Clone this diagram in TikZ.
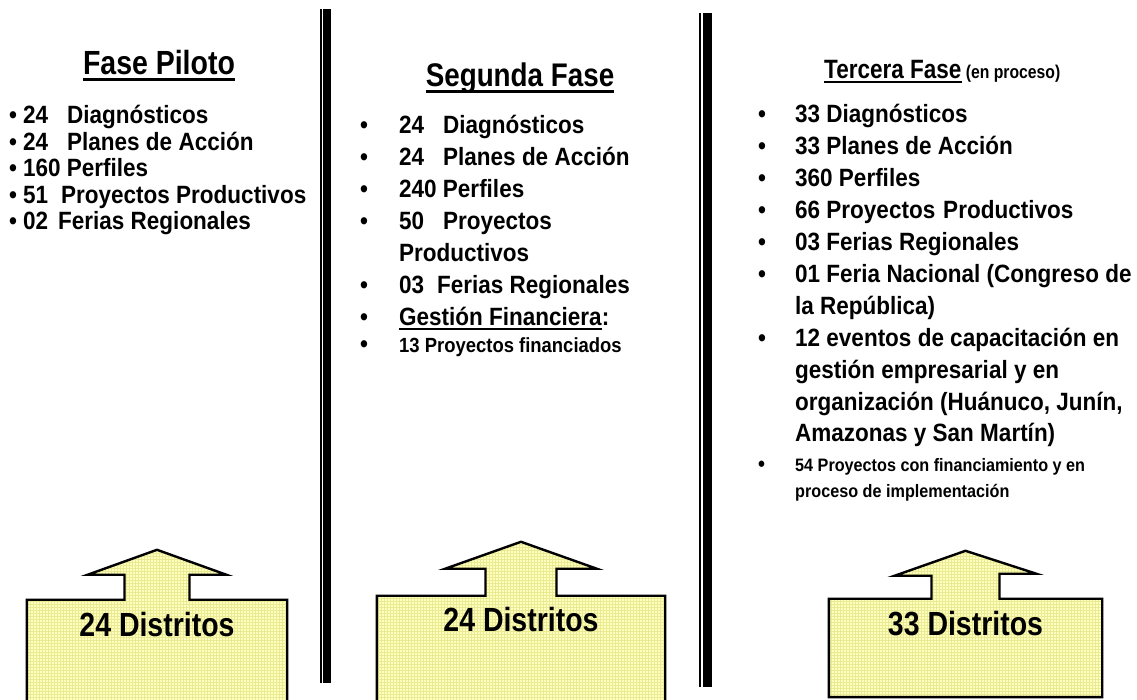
\documentclass[tikz,border=0pt]{standalone}
\usepackage{fontspec}
\setmainfont{Liberation Sans}[FakeStretch=0.9]
\newfontfamily\fasefont{Liberation Sans}[FakeStretch=0.85]
\usetikzlibrary{positioning, patterns}

\definecolor{distfill}{HTML}{FFFFBE}
\definecolor{distgrid}{HTML}{EAEA94}

\newsavebox{\rayabox}
\newcommand{\rayado}[1]{\sbox\rayabox{#1}\rlap{\rule[-0.17em]{\wd\rayabox}{0.08em}}\usebox\rayabox}

\begin{document}
\begin{tikzpicture}[x=1pt, y=1pt]
    \tikzset{
        titulo/.style = {inner sep=0pt, font=\fasefont\bfseries\fontsize{33.5}{36}\selectfont},
        item/.style = {anchor=north west, inner sep=0pt, text height=19pt, text depth=6pt,
                       font=\bfseries\fontsize{25}{28}\selectfont},
        chico/.style = {anchor=north west, inner sep=0pt, text height=14pt, text depth=4pt,
                        font=\bfseries\fontsize{18}{20}\selectfont},
        caja/.style = {rectangle, inner sep=0pt},
        distrito/.style = {anchor=base, inner sep=0pt, font=\fasefont\bfseries\fontsize{33.5}{36}\selectfont},
        callout/.style = {draw=black, line width=2.4pt, preaction={fill=distfill},
                          preaction={pattern=grid, pattern color=distgrid}},
        sepfino/.style = {line width=2pt},
        sepgrueso/.style = {line width=8.5pt}
    }
    \useasboundingbox (0,0) rectangle (1137,700);
    \clip (0,0) rectangle (1137,700);

    % separadores
    \draw[sepfino] (320.5,17) -- (320.5,691);
    \draw[sepgrueso] (327,17) -- (327,691);
    \draw[sepfino] (700,13) -- (700,687);
    \draw[sepgrueso] (707.5,13) -- (707.5,687);

    % fase piloto
    \node[titulo, anchor=base] (pil) at (159,625) {\rayado{Fase Piloto}};
    \node[item, anchor=base west] (p1) at (9,576) {\makebox[14pt][l]{•}24\hspace{19pt}Diagnósticos};
    \node[item, below right=1pt and 0pt of p1.south west] (p2) {\makebox[14pt][l]{•}24\hspace{19pt}Planes de Acción};
    \node[item, below right=1pt and 0pt of p2.south west] (p3) {\makebox[14pt][l]{•}160 Perfiles};
    \node[item, below right=1pt and 0pt of p3.south west] (p4) {\makebox[14pt][l]{•}51\hspace{13pt}Proyectos Productivos};
    \node[item, below right=1pt and 0pt of p4.south west] (p5) {\makebox[14pt][l]{•}02\hspace{10pt}Ferias Regionales};

    % segunda fase
    \node[titulo, anchor=base, font=\fasefont\bfseries\fontsize{32.7}{35}\selectfont] (seg) at (520,613) {\rayado{Segunda Fase}};
    \node[item, anchor=base west] (s1) at (360,566) {\makebox[39pt][l]{•}24\hspace{19pt}Diagnósticos};
    \node[item, below right=6.5pt and 0pt of s1.south west] (s2) {\makebox[39pt][l]{•}24\hspace{19pt}Planes de Acción};
    \node[item, below right=6.5pt and 0pt of s2.south west] (s3) {\makebox[39pt][l]{•}240 Perfiles};
    \node[item, below right=6.5pt and 0pt of s3.south west] (s4) {\makebox[39pt][l]{•}50\hspace{19pt}Proyectos};
    \node[item, below right=6.5pt and 0pt of s4.south west] (s5) {\hspace*{39pt}Productivos};
    \node[item, below right=6.5pt and 0pt of s5.south west] (s6) {\makebox[39pt][l]{•}03\hspace{13pt}Ferias Regionales};
    \node[item, below right=6.5pt and 0pt of s6.south west] (s7) {\makebox[39pt][l]{•}\rayado{Gestión Financiera}:};
    \node[chico, font=\bfseries\fontsize{20.5}{23}\selectfont, below right=7pt and 0pt of s7.south west] (s8)
        {\makebox[39pt][l]{\fontsize{25}{28}\selectfont•}13 Proyectos financiados};

    % tercera fase
    \node[titulo, anchor=base west, font=\fasefont\bfseries\fontsize{26.5}{29}\selectfont] (ter) at (824,621)
        {\rayado{Tercera Fase}{\fontsize{18.5}{20}\selectfont\ (en proceso)}};
    \node[item, anchor=base west] (t1) at (758,577) {\makebox[37pt][l]{•}33 Diagnósticos};
    \node[item, below right=6.5pt and 0pt of t1.south west] (t2) {\makebox[37pt][l]{•}33 Planes de Acción};
    \node[item, below right=6.5pt and 0pt of t2.south west] (t3) {\makebox[37pt][l]{•}360 Perfiles};
    \node[item, below right=6.5pt and 0pt of t3.south west] (t4) {\makebox[37pt][l]{•}66 Proyectos\hspace{8pt}Productivos};
    \node[item, below right=6.5pt and 0pt of t4.south west] (t5) {\makebox[37pt][l]{•}03 Ferias Regionales};
    \node[item, below right=6.5pt and 0pt of t5.south west] (t6) {\makebox[37pt][l]{•}01 Feria Nacional (Congreso de};
    \node[item, below right=6.5pt and 0pt of t6.south west] (t7) {\hspace*{37pt}la República)};
    \node[item, below right=6.5pt and 0pt of t7.south west] (t8) {\makebox[37pt][l]{•}12 eventos de capacitación en};
    \node[item, below right=6.5pt and 0pt of t8.south west] (t9) {\hspace*{37pt}gestión empresarial y en};
    \node[item, below right=6.5pt and 0pt of t9.south west] (t10) {\hspace*{37pt}organización (Huánuco, Junín,};
    \node[item, below right=6.5pt and 0pt of t10.south west] (t11) {\hspace*{37pt}Amazonas y San Martín)};
    \node[chico, below right=9pt and 0pt of t11.south west] (t12)
        {\makebox[37pt][l]{\fontsize{22}{24}\selectfont•}54 Proyectos con financiamiento y en};
    \node[chico, below right=8pt and 0pt of t12.south west] (t13) {\hspace*{37pt}proceso de implementación};

    % cajas de distritos
    \node[caja, minimum width=260pt, minimum height=110pt] (b1) at (157,45) {};
    \node[caja, minimum width=288pt, minimum height=114pt] (b2) at (521,47) {};
    \node[caja, minimum width=273pt, minimum height=98pt] (b3) at (965.5,52) {};

    \draw[callout] (b1.south west) -- (b1.north west) -- ([xshift=-32.5pt]b1.north) -- ++(0,25) -- ++(-37,0)
        -- ([yshift=50pt]b1.north) -- ++(69.5,-25) -- ++(-37,0) -- ([xshift=32.5pt]b1.north)
        -- (b1.north east) -- (b1.south east) -- cycle;
    \draw[callout] (b2.south west) -- (b2.north west) -- ([xshift=-35.5pt]b2.north) -- ++(0,27) -- ++(-40.5,0)
        -- ([yshift=54pt]b2.north) -- ++(76,-27) -- ++(-40.5,0) -- ([xshift=35.5pt]b2.north)
        -- (b2.north east) -- (b2.south east) -- cycle;
    \draw[callout] (b3.south west) -- (b3.north west) -- ([xshift=-34pt]b3.north) -- ++(0,23) -- ++(-37,0)
        -- ([yshift=48pt]b3.north) -- ++(71,-23) -- ++(-37,0) -- ([xshift=34pt]b3.north)
        -- (b3.north east) -- (b3.south east) -- cycle;

    \node[distrito] (d1) at ([yshift=-37pt]b1.north) {24 Distritos};
    \node[distrito] (d2) at ([yshift=-36pt]b2.north) {24 Distritos};
    \node[distrito] (d3) at ([yshift=-37pt]b3.north) {33 Distritos};

\end{tikzpicture}
\end{document}
